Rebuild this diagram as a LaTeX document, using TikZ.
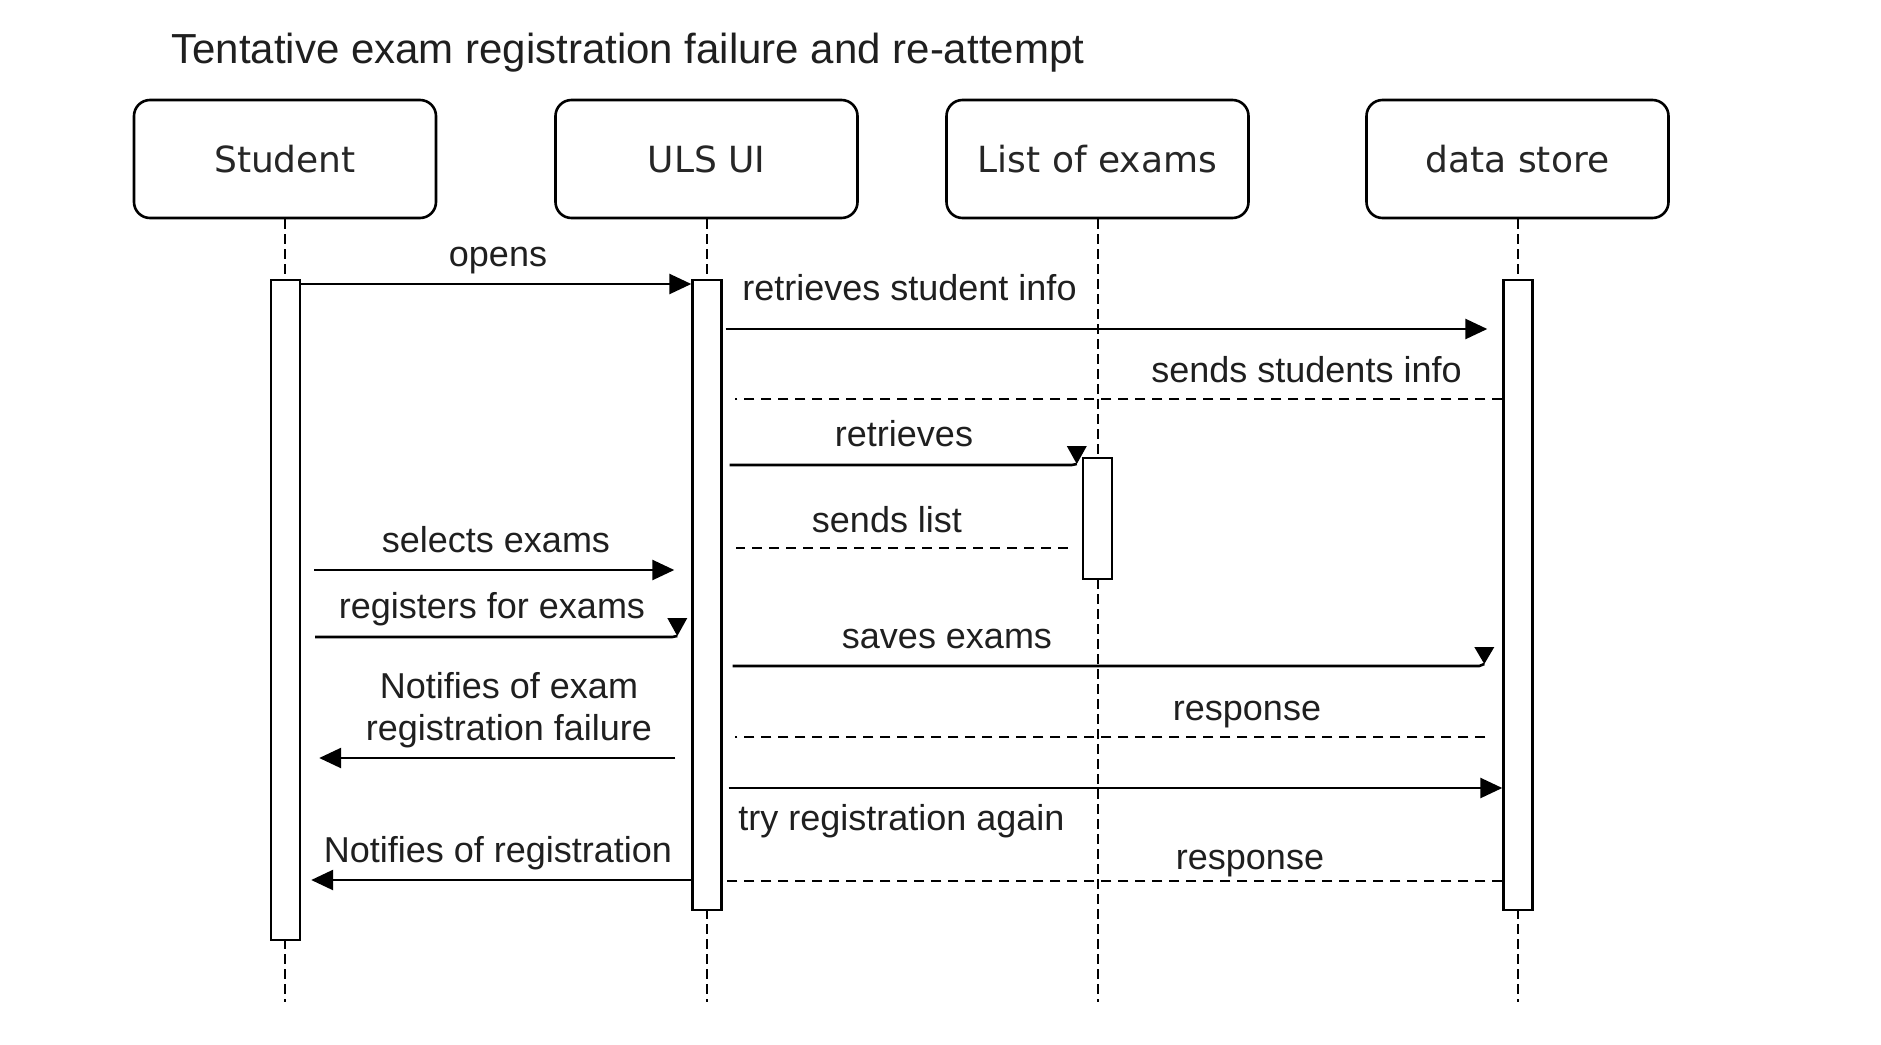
\documentclass[tikz,border=0pt]{standalone}
\usepackage{fontspec}
\setmainfont{Liberation Sans}
\newfontfamily\partfont{DejaVu Sans}
\usetikzlibrary{arrows.meta,calc}
\begin{document}
\begin{tikzpicture}[x=0.5pt,y=-0.5pt,
  part/.style={draw, line width=1.3pt, rounded corners=8pt, minimum width=151pt, minimum height=59pt, font=\partfont\fontsize{18}{21}\selectfont, inner sep=0pt, text=black!85},
  life/.style={line width=1pt, dash pattern=on 5pt off 2.5pt},
  bar/.style={draw, fill=white, line width=1.2pt, minimum width=14.5pt, inner sep=0pt},
  msg/.style={line width=1.3pt},
  arr/.style={msg, -{Triangle[length=11pt,width=10pt]}},
  ret/.style={line width=1.2pt, dash pattern=on 5pt off 3.5pt},
  lbl/.style={font=\fontsize{18}{21}\selectfont, inner sep=0pt, text=black!88},
  ttl/.style={font=\fontsize{21}{25}\selectfont, inner sep=0pt, text=black!88},
]
\useasboundingbox (0,0) rectangle (1881,1045);
\fill[white] (0,0) rectangle (1881,1045);

% title
\node[ttl, anchor=base west] (title) at (171,63) {Tentative exam registration failure and re-attempt};

% participants
\node[part] (student) at (285,159) {Student};
\node[part] (uls) at (706.5,159) {ULS UI};
\node[part] (list) at (1097.5,159) {List of exams};
\node[part] (store) at (1517.5,159) {data store};

\coordinate (bottom) at (0,1002);
\draw[life] (student.south) -- (student.south |- bottom);
\draw[life] (uls.south) -- (uls.south |- bottom);
\draw[life] (list.south) -- (list.south |- bottom);
\draw[life] (store.south) -- (store.south |- bottom);

% activation bars
\node[bar, minimum height=330pt] (sbar) at (285.5,610) {};
\node[bar, minimum height=315pt] (ubar) at (707,595) {};
\node[bar, minimum height=60.5pt] (lbar) at (1097.5,518.5) {};
\node[bar, minimum height=315pt] (dbar) at (1518,595) {};

% message heights
\coordinate (y1) at (0,284);
\coordinate (y2) at (0,329);
\coordinate (y3) at (0,399);
\coordinate (y4) at (0,465);
\coordinate (y5) at (0,548);
\coordinate (y6) at (0,570);
\coordinate (y7) at (0,637);
\coordinate (y8) at (0,666);
\coordinate (y9) at (0,737);
\coordinate (y10) at (0,758);
\coordinate (y11) at (0,788);
\coordinate (y12) at (0,880);
\coordinate (y13) at (0,881);

% 1 opens
\draw[arr] (sbar.east |- y1) -- (ubar.west |- y1);
\node[lbl, anchor=base] (l1) at (498,266) {opens};

% 2 retrieves student info
\draw[arr] ($(ubar.east |- y2)+(3,0)$) -- ($(dbar.west |- y2)+(-15,0)$);
\node[lbl, anchor=base west] (l2) at (742,300) {retrieves student info};

% 3 sends students info
\draw[ret] (dbar.west |- y3) -- ($(ubar.east |- y3)+(12,0)$);
\node[lbl, anchor=base east] (l3) at (1462,382) {sends students info};

% 4 retrieves
\coordinate (t4) at ($(lbar.west |- y4)+(-5,-1)$);
\draw[msg] ($(ubar.east |- y4)+(7,0)$) -- ($(t4)+(-5,1)$) -- (t4);
\fill (t4) -- ++(-10,-18) -- ++(20,0) -- cycle;
\node[lbl, anchor=base] (l4) at (904,446) {retrieves};

% 5 sends list
\draw[ret] ($(lbar.west |- y5)+(-14,0)$) -- ($(ubar.east |- y5)+(13,0)$);
\node[lbl, anchor=base] (l5) at (887,532) {sends list};

% 6 selects exams
\draw[arr] ($(sbar.east |- y6)+(13,0)$) -- ($(ubar.west |- y6)+(-17,0)$);
\node[lbl, anchor=base] (l6) at (496,552) {selects exams};

% 7 registers for exams
\coordinate (t7) at ($(ubar.west |- y7)+(-14,-1)$);
\draw[msg] ($(sbar.east |- y7)+(14,0)$) -- ($(t7)+(-5,1)$) -- (t7);
\fill (t7) -- ++(-10,-18) -- ++(20,0) -- cycle;
\node[lbl, anchor=base] (l7) at (492,618) {registers for exams};

% 8 saves exams
\coordinate (t8) at ($(dbar.west |- y8)+(-18,-2)$);
\draw[msg] ($(ubar.east |- y8)+(10,0)$) -- ($(t8)+(-5,2)$) -- (t8);
\fill (t8) -- ++(-10,-17) -- ++(20,0) -- cycle;
\node[lbl, anchor=base] (l8) at (947,648) {saves exams};

% 9 response
\draw[ret] ($(dbar.west |- y9)+(-17,0)$) -- ($(ubar.east |- y9)+(12,0)$);
\node[lbl, anchor=base] (l9) at (1247,720) {response};

% 10 notifies of failure
\draw[arr] ($(ubar.west |- y10)+(-16,0)$) -- ($(sbar.east |- y10)+(18,0)$);
\node[lbl, anchor=base] (l10a) at (509,698) {Notifies of exam};
\node[lbl, anchor=base] (l10b) at (509,740) {registration failure};

% 11 try registration again
\draw[arr] ($(ubar.east |- y11)+(6,0)$) -- (dbar.west |- y11);
\node[lbl, anchor=base west] (l11) at (738,830) {try registration again};

% 12 notifies of registration
\draw[arr] (ubar.west |- y12) -- ($(sbar.east |- y12)+(10,0)$);
\node[lbl, anchor=base] (l12) at (498,862) {Notifies of registration};

% 13 response
\draw[ret] (dbar.west |- y13) -- ($(ubar.east |- y13)+(4,0)$);
\node[lbl, anchor=base] (l13) at (1250,869) {response};
\end{tikzpicture}
\end{document}
